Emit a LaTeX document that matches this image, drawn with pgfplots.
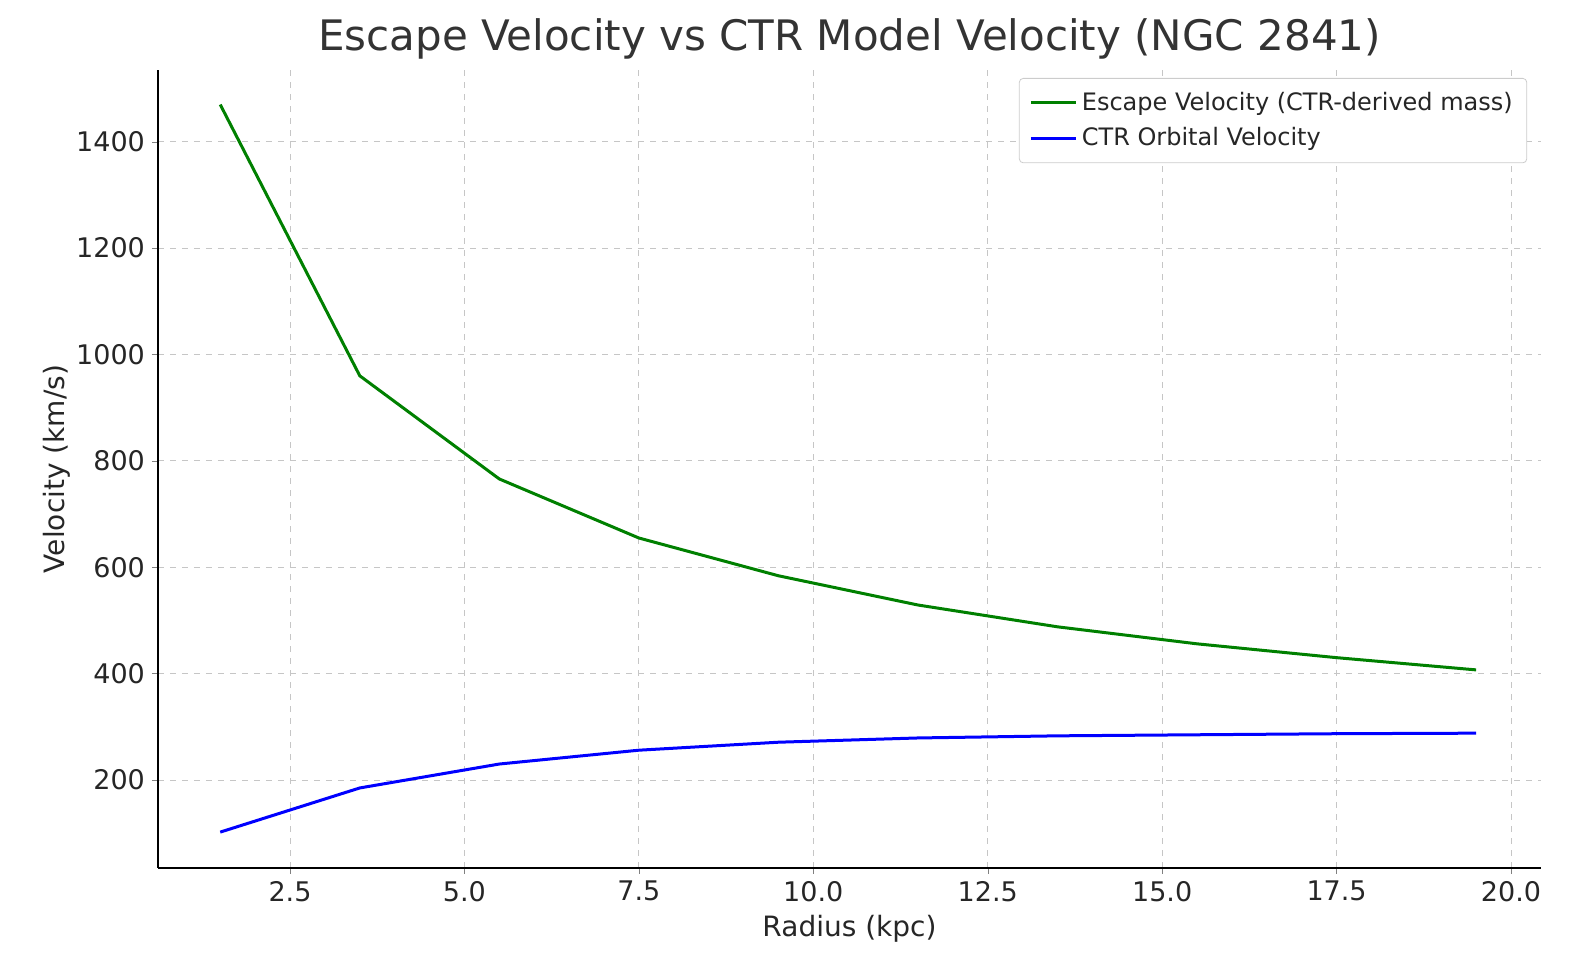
\documentclass[border=0pt]{standalone}
\usepackage{pgfplots}
\pgfplotsset{compat=1.18}
\usepackage{fontspec}
\setmainfont{DejaVu Sans}
\definecolor{mgreen}{RGB}{0,128,0}
\begin{document}
\begin{tikzpicture}
\path (-79pt,-56pt) rectangle (709pt,434pt);
\begin{axis}[
  scale only axis, width=691.5pt, height=399pt,
  at={(0,0)}, anchor=south west,
  xmin=0.608, xmax=20.43, ymin=34.5, ymax=1535,
  axis x line*=bottom, axis y line*=left,
  axis line style={line width=0.8pt},
  xtick={2.5,5,...,20}, ytick={200,400,...,1400},
  xticklabel={\pgfmathprintnumber[fixed,fixed zerofill,precision=1]{\tick}},
  /pgf/number format/assume math mode=true,
  /pgf/number format/1000 sep={},
  tick label style={font=\fontsize{13.5}{16}\selectfont, text=black!85},
  label style={font=\fontsize{14}{17}\selectfont, text=black!85},
  xlabel={Radius (kpc)}, ylabel={Velocity (km/s)},
  ylabel style={yshift=-4pt},
  title={Escape Velocity vs CTR Model Velocity (NGC 2841)},
  title style={font=\fontsize{21}{25}\selectfont, text=black!80, yshift=-4pt},
  grid=major, grid style={dashed, gray!45, line width=0.4pt},
  tick align=outside, major tick length=3pt,
  legend style={at={(0.99,0.99)}, anchor=north east, font=\fontsize{12}{15}\selectfont, draw=black!20, rounded corners=2pt, row sep=3pt, inner sep=5pt, text=black!85},
  legend image code/.code={\draw[#1, line width=1.5pt] (0cm,0cm) -- (0.8cm,0cm);},
  legend cell align=left,
]
\addplot[mgreen, line width=1.5pt] coordinates {(1.5,1470)(3.5,960)(5.5,766)(7.5,655)(9.5,584)(11.5,529)(13.5,488)(15.5,456)(17.5,430)(19.5,407)};
\addlegendentry{Escape Velocity (CTR-derived mass)}
\addplot[blue, line width=1.5pt] coordinates {(1.5,102)(3.5,185)(5.5,230)(7.5,256)(9.5,271)(11.5,279)(13.5,283)(15.5,285)(17.5,287)(19.5,288)};
\addlegendentry{CTR Orbital Velocity}
\end{axis}
\end{tikzpicture}
\end{document}
